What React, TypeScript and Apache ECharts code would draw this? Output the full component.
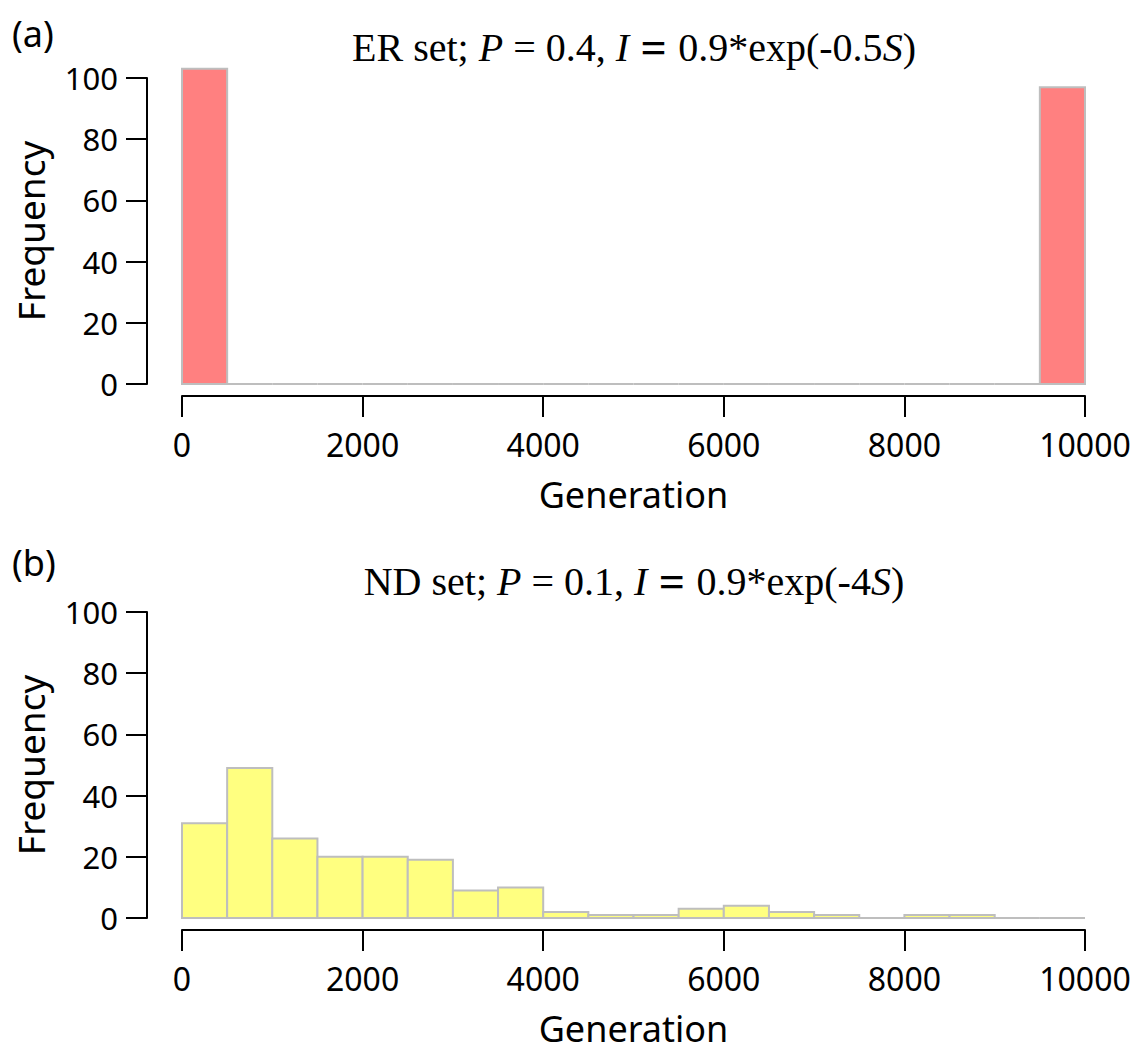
import React, { useEffect, useRef } from "react";
import * as echarts from "echarts";

const binStarts = [0, 500, 1000, 1500, 2000, 2500, 3000, 3500, 4000, 4500, 5000, 5500, 6000, 6500, 7000, 7500, 8000, 8500, 9000, 9500];
const binWidth = 500;
const countsA = [103, 0, 0, 0, 0, 0, 0, 0, 0, 0, 0, 0, 0, 0, 0, 0, 0, 0, 0, 97];
const countsB = [31, 49, 26, 20, 20, 19, 9, 10, 2, 1, 1, 3, 4, 2, 1, 0, 1, 1, 0, 0];
const xTicks = [0, 2000, 4000, 6000, 8000, 10000];
const yTicks = [0, 20, 40, 60, 80, 100];
const colorA = "#FF8080";
const colorB = "#FFFF80";
const borderColor = "#BEBEBE";

const SANS = "'Noto Sans', 'Liberation Sans', Arial, sans-serif";
const SERIF = "'Liberation Serif', 'Times New Roman', serif";

function makeSeries(idx: number, counts: number[], color: string) {
  return {
    type: "custom",
    xAxisIndex: idx,
    yAxisIndex: idx,
    clip: false,
    data: binStarts.map((s, i) => [s, s + binWidth, counts[i]]),
    encode: { x: [0, 1], y: 2 },
    renderItem: (params: any, api: any) => {
      const v = api.value(2);
      const p0 = api.coord([api.value(0), 0]);
      const p1 = api.coord([api.value(1), v]);
      if (v === 0) {
        return {
          type: "line",
          shape: { x1: p0[0], y1: p0[1], x2: p1[0], y2: p0[1] },
          style: { stroke: borderColor, lineWidth: 2 },
        };
      }
      return {
        type: "rect",
        shape: { x: p0[0], y: p1[1], width: p1[0] - p0[0], height: p0[1] - p1[1] },
        style: { fill: color, stroke: borderColor, lineWidth: 2 },
      };
    },
  };
}

function xAxis(idx: number) {
  return {
    gridIndex: idx,
    type: "value",
    min: xTicks[0],
    max: xTicks[xTicks.length - 1],
    interval: 2000,
    offset: 12,
    axisLine: { show: true, onZero: false, lineStyle: { color: "#000", width: 2 } },
    axisTick: { show: true, length: 21, lineStyle: { color: "#000", width: 2 } },
    axisLabel: {
      fontSize: 32,
      color: "#000",
      margin: 32,
      fontFamily: SANS,
      showMinLabel: true,
      showMaxLabel: true,
      formatter: (v: number) => String(v),
    },
    splitLine: { show: false },
    name: "Generation",
    nameLocation: "middle",
    nameGap: 80,
    nameTextStyle: { fontSize: 36, color: "#000", fontFamily: SANS },
  };
}

function yAxis(idx: number) {
  return {
    gridIndex: idx,
    type: "value",
    min: yTicks[0],
    max: yTicks[yTicks.length - 1],
    interval: 20,
    offset: 35,
    axisLine: { show: true, onZero: false, lineStyle: { color: "#000", width: 2 } },
    axisTick: { show: true, length: 21, lineStyle: { color: "#000", width: 2 } },
    axisLabel: { fontSize: 31, color: "#000", margin: 29, fontFamily: SANS, showMinLabel: true, showMaxLabel: true },
    splitLine: { show: false },
    name: "Frequency",
    nameLocation: "middle",
    nameGap: 98,
    nameRotate: 90,
    nameTextStyle: { fontSize: 37, color: "#000", fontFamily: SANS },
  };
}

const titleRich = {
  n: { fontFamily: SERIF, fontSize: 40, color: "#000" },
  i: { fontFamily: SERIF, fontSize: 40, fontStyle: "italic", color: "#000" },
  eq: { fontFamily: SERIF, fontSize: 46, fontWeight: "bold", color: "#000" },
};

function titleText(x: number, y: number, text: string) {
  return {
    type: "text",
    x,
    y,
    style: { text, rich: titleRich, align: "center", verticalAlign: "middle" },
  };
}

function panelLabel(x: number, y: number, text: string) {
  return {
    type: "text",
    x,
    y,
    style: { text, fontFamily: SANS, fontSize: 36, fill: "#000", align: "left", verticalAlign: "middle" },
  };
}

export default function App() {
  const ref = useRef<HTMLDivElement>(null);
  useEffect(() => {
    document.body.style.margin = "0";
    const chart = echarts.init(ref.current!, null, { renderer: "svg" });
    chart.setOption({
      animation: false,
      backgroundColor: "#fff",
      grid: [
        { left: 182, width: 903, top: 78, height: 306 },
        { left: 182, width: 903, top: 612, height: 306 },
      ],
      xAxis: [xAxis(0), xAxis(1)],
      yAxis: [yAxis(0), yAxis(1)],
      series: [makeSeries(0, countsA, colorA), makeSeries(1, countsB, colorB)],
      graphic: [
        panelLabel(12, 33, "(a)"),
        panelLabel(12, 562, "(b)"),
        titleText(634, 47, "{n|ER set; }{i|P}{n| = 0.4, }{i|I}{eq| = }{n|0.9*exp(-0.5}{i|S}{n|)}"),
        titleText(634, 581, "{n|ND set; }{i|P}{n| = 0.1, }{i|I}{eq| = }{n|0.9*exp(-4}{i|S}{n|)}"),
      ],
    });
    return () => chart.dispose();
  }, []);
  return <div ref={ref} style={{ width: 1139, height: 1053 }} />;
}
